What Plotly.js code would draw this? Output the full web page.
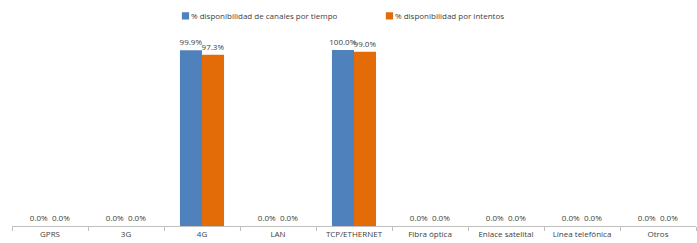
<!DOCTYPE html>
<html><head><meta charset="utf-8">
<script src="https://cdn.plot.ly/plotly-3.0.1.min.js"></script>
<style>html,body{margin:0;padding:0;background:#fff}#c{width:697px;height:243px}</style>
</head><body><div id="c"></div>
<script>
const categories = ["GPRS","3G","4G","LAN","TCP/ETHERNET","Fibra óptica","Enlace satelital","Línea telefónica","Otros"];
const seriesNames = ["% disponibilidad de canales por tiempo","% disponibilidad por intentos"];
const tiempo = [0,0,99.9,0,100.0,0,0,0,0];
const intentos = [0,0,97.3,0,99.0,0,0,0,0];
const colors = ["#4f81bd","#e36c09"];
const fmt = v => v.toFixed(1) + "%";
const font = {family:"Open Sans, Liberation Sans, sans-serif", size:8, color:"#404040"};
const traces = [tiempo, intentos].map((vals,i)=>({
  type:"bar", x:categories, y:vals, name:seriesNames[i],
  marker:{color:colors[i], line:{width:0}},
  text: vals.map(fmt), textposition:"outside", cliponaxis:false, constraintext:"none",
  textfont:font, hoverinfo:"none"
}));
const layout = {
  width:697, height:243,
  margin:{l:12, r:1, t:50, b:17},
  paper_bgcolor:"#fff", plot_bgcolor:"#fff",
  barmode:"group", bargap:0.42, bargroupgap:0,
  font:font,
  showlegend:true,
  legend:{orientation:"h", x:0.2032, y:0.935, yanchor:"middle", xanchor:"left",
    yref:"container", font:{...font, size:8}, entrywidth:159, itemwidth:30,
    traceorder:"normal", bgcolor:"rgba(0,0,0,0)"},
  xaxis:{type:"category", range:[-0.5,8.5], showline:true, linecolor:"#bfbfbf", linewidth:1,
    ticks:"outside", tickson:"boundaries", ticklen:4, tickcolor:"#bfbfbf",
    tickfont:font, showgrid:false, fixedrange:true, automargin:false},
  yaxis:{range:[0,100], visible:false, showgrid:false, zeroline:false, fixedrange:true}
};
Plotly.newPlot("c", traces, layout, {displayModeBar:false, staticPlot:true}).then(()=>{
  document.querySelectorAll('#c .legend .legendpoints').forEach(g=>{
    g.setAttribute('transform','translate(22.5,0) scale(0.6)');
  });
});
</script></body></html>
